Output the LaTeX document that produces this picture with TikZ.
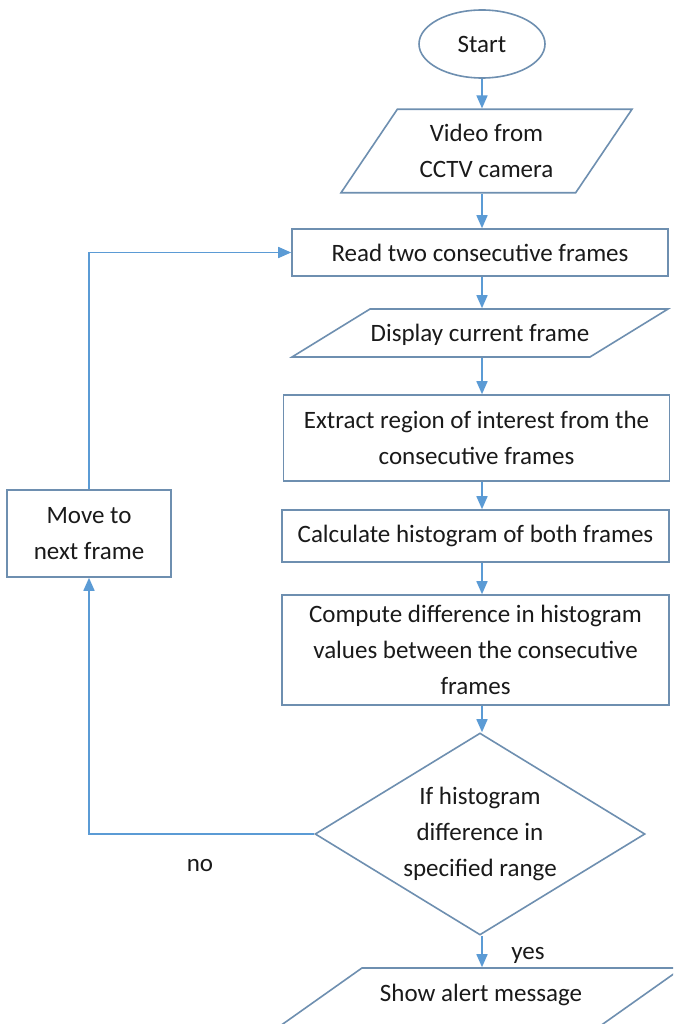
\documentclass[tikz,border=0pt]{standalone}
\usepackage{fontspec}
\setmainfont{Carlito}
\usepackage{tikz}
\usetikzlibrary{
  arrows.meta,
  positioning,
  shapes.geometric,
}
\definecolor{boxLine}{HTML}{6E8FB0}
\definecolor{flowLine}{HTML}{5B9BD5}
\definecolor{inkText}{HTML}{1A1A1A}
\tikzset{
  procbox/.style={
    rectangle, draw=boxLine, line width=1.6pt, fill=white,
    align=center, inner sep=2pt, text=inkText,
  },
  iobox/.style 2 args={
    trapezium, trapezium left angle=#1, trapezium right angle=#2,
    trapezium stretches body=true, draw=boxLine, line width=1.6pt,
    align=center, inner xsep=0pt, text=inkText,
  },
  startbox/.style={
    ellipse, draw=boxLine, line width=1.6pt, inner sep=0pt,
    minimum width=126pt, minimum height=68pt, text=inkText,
  },
  decision/.style={
    diamond, draw=boxLine, line width=1.6pt, inner sep=0pt,
    minimum width=330pt, minimum height=202pt,
  },
  arrowFlow/.style={
    -{Triangle[length=13pt,width=11pt]}, line width=1.6pt, draw=flowLine,
  },
}

\begin{document}
\begin{tikzpicture}[x=1pt, y=-1pt, font=\fontsize{25}{36}\selectfont]

\useasboundingbox (0,0) rectangle (673,1024);
\clip (0,0) rectangle (673,1024);
\fill[white] (0,0) rectangle (673,1024);

% main column
\coordinate (axis) at (482,0);
\node[startbox] (start) at (482,44) {Start};
\node[iobox={56}{124}, inner ysep=15pt, minimum width=291pt]
  (video) at (486.5,151) {Video from\\CCTV camera};
\node[procbox, minimum width=376pt, minimum height=47pt]
  (read) at (480,252.5) {Read two consecutive frames};
\node[iobox={31.6}{148.4}, inner ysep=0pt, text height=32pt, text depth=16pt,
  minimum width=376pt]
  (display) at (480,333) {Display current frame};
\node[procbox, minimum width=386pt, minimum height=86pt]
  (extract) at (476.5,438) {Extract region of interest from the\\consecutive frames};
\node[procbox, minimum width=387pt, minimum height=52pt]
  (hist) at (475.5,536) {Calculate histogram of both frames};
\node[procbox, minimum width=387pt, minimum height=110pt]
  (diff) at (475.5,650) {Compute difference in histogram\\values between the consecutive\\frames};
\node[decision,
  label={[align=center, text=inkText]center:If histogram\\difference in\\specified range}]
  (check) at (480,834) {};
\node[iobox={35.3}{144.7}, inner ysep=0pt, text height=33pt, text depth=25pt,
  minimum width=402pt]
  (alert) at (481,997) {Show alert message};

% side loop
\node[procbox, minimum width=164pt, minimum height=87pt]
  (move) at (89,533.5) {Move to\\next frame};

\node[text=inkText] (no) at (200,866) {no};
\node[text=inkText] (yes) at (528,955) {yes};

\draw[arrowFlow] (start.south) -- (start.south |- video.north);
\draw[arrowFlow] (video.south -| axis) -- (read.north -| axis);
\draw[arrowFlow] (read.south -| axis) -- (display.north -| axis);
\draw[arrowFlow] (display.south -| axis) -- (extract.north -| axis);
\draw[arrowFlow] (extract.south -| axis) -- (hist.north -| axis);
\draw[arrowFlow] (hist.south -| axis) -- (diff.north -| axis);
\draw[arrowFlow] (diff.south -| axis) -- (check.north -| axis);
\draw[arrowFlow] (check.south -| axis) -- (alert.north -| axis);
\draw[arrowFlow] (check.west) -| (move.south);
\draw[arrowFlow] (move.north) |- (read.west);

\end{tikzpicture}
\end{document}
